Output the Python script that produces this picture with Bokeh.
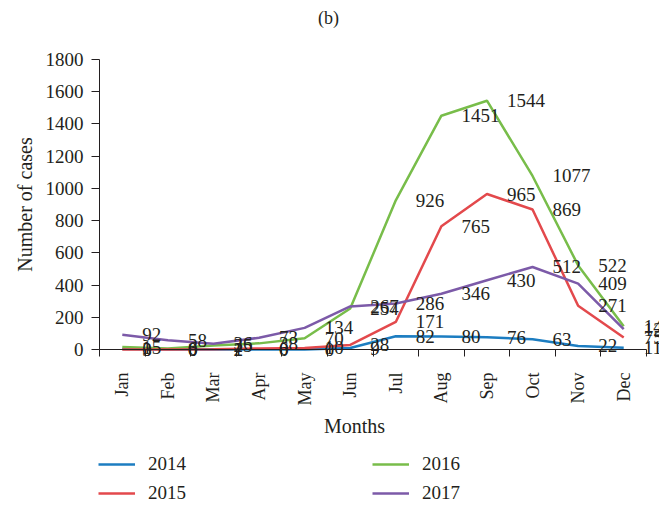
import math
from bokeh.plotting import figure
from bokeh.models import FixedTicker, Legend, LegendItem, Range1d, Label
from bokeh.embed import file_html
from bokeh.resources import INLINE
from bokeh.core.properties import value

months = ["Jan", "Feb", "Mar", "Apr", "May", "Jun", "Jul", "Aug", "Sep", "Oct", "Nov", "Dec"]
cases_2014 = [3, 0, 1, 0, 0, 9, 82, 80, 76, 63, 22, 11]
cases_2015 = [0, 0, 2, 6, 10, 28, 171, 765, 965, 869, 271, 75]
cases_2016 = [15, 6, 25, 38, 70, 254, 926, 1451, 1544, 1077, 522, 145]
cases_2017 = [92, 58, 36, 73, 134, 267, 286, 346, 430, 512, 409, 126]
y_ticks = [0, 200, 400, 600, 800, 1000, 1200, 1400, 1600, 1800]

FONT = "Liberation Serif"
INK = "#231f20"
series = [
    ("2014", cases_2014, "#1c7dc1"),
    ("2015", cases_2015, "#e3494c"),
    ("2016", cases_2016, "#78bd4a"),
    ("2017", cases_2017, "#7c5aa8"),
]
xs = list(range(len(months)))
x_lo, x_hi = -0.5, len(months) - 0.5
y_lo, y_hi = 0, 1800

# frame covers the whole canvas; axes are pinned inside it
p = figure(width=659, height=528, output_backend="svg", toolbar_location=None,
           x_range=Range1d(-2.672, 11.785), y_range=Range1d(-1111, 2166))
p.min_border = 0
p.outline_line_color = None
p.grid.visible = False
p.background_fill_color = "white"
p.border_fill_color = "white"

# x axis, pinned at y = 0
xa = p.xaxis[0]
xa.fixed_location = 0
xa.bounds = (x_lo, x_hi)
xa.ticker = FixedTicker(ticks=xs, minor_ticks=[i - 0.5 for i in range(len(months) + 1)])
xa.major_label_overrides = {i: m for i, m in enumerate(months)}
xa.major_label_orientation = math.pi / 2
xa.major_tick_line_color = None
xa.major_tick_out = 0
xa.major_tick_in = 0
xa.minor_tick_line_color = INK
xa.minor_tick_out = 7
xa.minor_tick_in = 0
xa.major_label_standoff = 16
xa.major_label_text_font = FONT
xa.major_label_text_font_size = "18px"
xa.major_label_text_color = INK
xa.axis_line_color = INK

# y axis, pinned at the left edge of the category span
ya = p.yaxis[0]
ya.fixed_location = x_lo
ya.bounds = (y_lo, y_hi)
ya.ticker = FixedTicker(ticks=y_ticks)
ya.minor_tick_line_color = None
ya.major_tick_out = 8
ya.major_tick_in = 0
ya.major_tick_line_color = INK
ya.axis_line_color = INK
ya.major_label_standoff = 8
ya.major_label_text_font = FONT
ya.major_label_text_font_size = "19px"
ya.major_label_text_color = INK

renderers = {}
for name, vals, color in [series[0], series[2], series[1], series[3]]:
    renderers[name] = p.line(xs, vals, line_color=color, line_width=2.5)

for name, vals, color in series:
    p.text(x=xs, y=vals, text=[str(v) for v in vals], x_offset=20,
           text_align="left", text_baseline="middle",
           text_font=value(FONT), text_font_size="19px", text_color=INK)

# titles
p.add_layout(Label(x=328, y=511, x_units="screen", y_units="screen", text="(b)",
                   text_align="center", text_baseline="middle",
                   text_font=FONT, text_font_size="18px", text_color=INK))
p.add_layout(Label(x=24, y=324, x_units="screen", y_units="screen", text="Number of cases",
                   angle=math.pi / 2, text_align="center", text_baseline="middle",
                   text_font=FONT, text_font_size="20px", text_color=INK))
p.add_layout(Label(x=354, y=103, x_units="screen", y_units="screen", text="Months",
                   text_align="center", text_baseline="middle",
                   text_font=FONT, text_font_size="20px", text_color=INK))

legend_order = ["2014", "2016", "2015", "2017"]
legend = Legend(items=[LegendItem(label=name, renderers=[renderers[name]]) for name in legend_order],
                ncols=2, location=(98, 24), orientation="horizontal",
                glyph_width=37, glyph_height=20, label_height=20, label_width=217,
                label_standoff=13, spacing=7, padding=0, margin=0,
                border_line_color=None, background_fill_alpha=0,
                label_text_font=FONT, label_text_font_size="19px", label_text_color=INK)
p.add_layout(legend, "center")

open("out.html", "w").write(file_html(p, INLINE))
